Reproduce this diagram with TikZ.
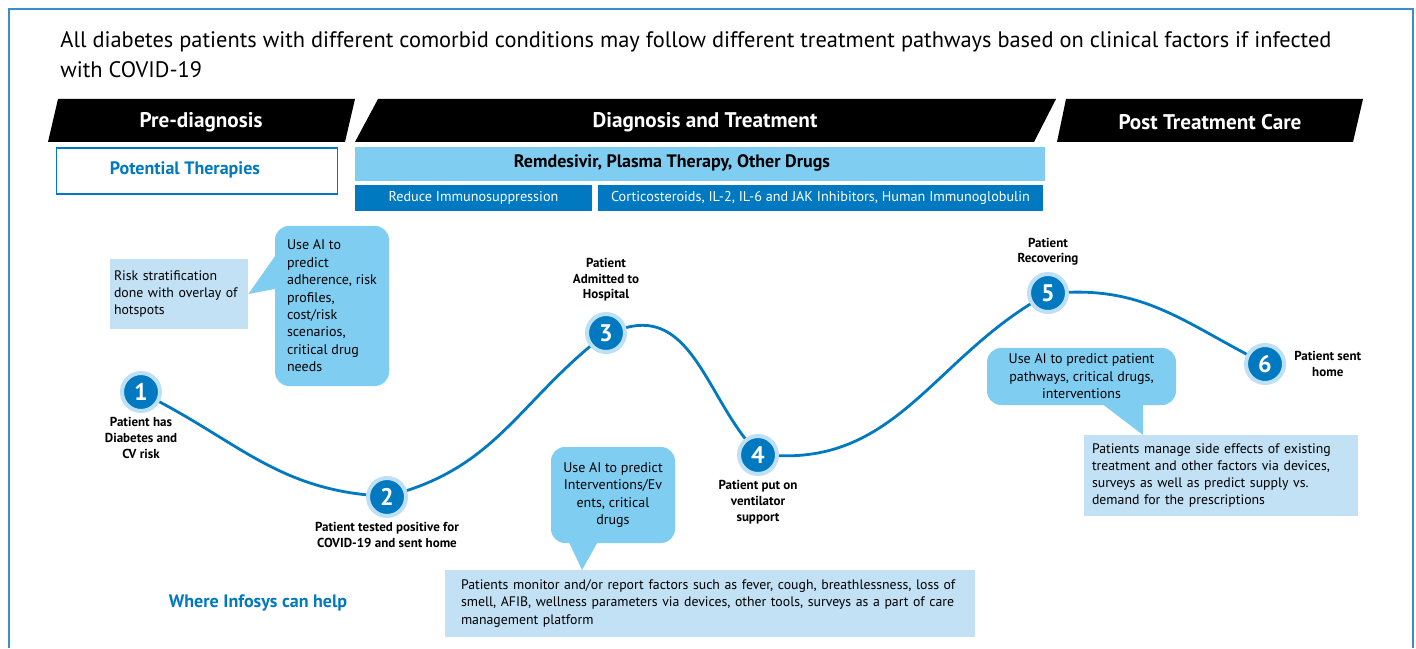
\documentclass[tikz,border=0pt]{standalone}
\usepackage{fontspec}
\setmainfont{PT Sans}
\usetikzlibrary{positioning}

\definecolor{infdark}{HTML}{0079C1}
\definecolor{inflight}{HTML}{7FCEF2}
\definecolor{infpale}{HTML}{C2E1F5}
\definecolor{infhalo}{HTML}{BDE0F5}
\definecolor{infframe}{HTML}{3A8ED0}

\tikzset{
  banner/.style = {text=white, font=\bfseries\fontsize{10.6}{12}\selectfont},
  stepdot/.style = {circle, fill=infdark, draw=infhalo, line width=2pt, minimum size=19pt,
                    inner sep=0pt, text=white, font=\bfseries\fontsize{12}{12}\selectfont},
  steplabel/.style = {align=center, inner sep=1pt, font=\bfseries\fontsize{6.5}{7.9}\selectfont},
  callout/.style = {fill=inflight, rounded corners=7pt, inner sep=0pt,
                    font=\fontsize{7}{8.7}\selectfont},
  infobox/.style = {fill=infpale, inner ysep=0pt, font=\fontsize{6.9}{8.6}\selectfont, align=left},
  therapy/.style = {fill=infdark, text=white, minimum height=13pt, font=\fontsize{7.1}{8}\selectfont},
  helptext/.style = {text=infdark, font=\bfseries\fontsize{9}{10}\selectfont},
  curve/.style = {draw=infdark, line width=1.4pt}
}

\begin{document}
\begin{tikzpicture}[x=0.5pt, y=0.5pt]
  \useasboundingbox (0,0) rectangle (1416,648);
  \fill[white] (0,0) rectangle (1416,648);
  \draw[infframe, line width=1pt] (9,0) -- (9,639) -- (1413,639) -- (1413,0);

  % heading
  \node[anchor=base west, inner sep=0pt, align=left, font=\fontsize{11.2}{15}\selectfont] (title) at (60,570)
    {All diabetes patients with different comorbid conditions may follow different treatment pathways based on clinical factors if infected\\with COVID-19};

  % phase banners
  \fill (58,549) -- (355,549) -- (345,506) -- (48,506) -- cycle;
  \fill (378,549) -- (1056,549) -- (1034,506) -- (355,506) -- cycle;
  \fill (1066,549) -- (1363,549) -- (1353,506) -- (1057,506) -- cycle;
  \node[banner] (pre) at (201,526) {Pre-diagnosis};
  \node[banner] (diag) at (705,526) {Diagnosis and Treatment};
  \node[banner] (post) at (1210,526) {Post Treatment Care};

  % therapies
  \node[draw=infdark, line width=0.6pt, minimum width=140.5pt, minimum height=23pt] (pot) at (197,477) {};
  \node[helptext] (pottext) at (185,478) {Potential Therapies};
  \node[fill=inflight, minimum width=345pt, minimum height=17pt] (remd) at (700,484) {};
  \node[font=\bfseries\fontsize{9}{10}\selectfont] (remdtext) at (672,485) {Remdesivir, Plasma Therapy, Other Drugs};
  \node[therapy, minimum width=118.5pt] (reduce) at (473.5,450) {Reduce Immunosuppression};
  \node[therapy, minimum width=222.5pt] (cortico) at (820.5,450) {Corticosteroids, IL-2, IL-6 and JAK Inhibitors, Human Immunoglobulin};

  % patient journey
  \node[stepdot] (n1) at (141,256) {1};
  \node[stepdot] (n2) at (387,151) {2};
  \node[stepdot] (n3) at (606,315) {3};
  \node[stepdot] (n4) at (758,193) {4};
  \node[stepdot] (n5) at (1048,355) {5};
  \node[stepdot] (n6) at (1265,284) {6};

  \draw[curve] (n1) to[out=-28, in=174] (n2);
  \draw[curve] (n2) to[out=18, in=-140] (n3);
  \draw[curve] (n3) to[out=15, in=128] (n4);
  \draw[curve] (n4) to[out=-2, in=-148] (n5);
  \draw[curve] (n5) to[out=2, in=152] (n6);

  \node[steplabel, below=1pt of n1] (l1) {Patient has\\Diabetes and\\CV risk};
  \node[steplabel, below=1pt of n2] (l2) {Patient tested positive for\\COVID-19 and sent home};
  \node[steplabel, above=4pt of n3] (l3) {Patient\\Admitted to\\Hospital};
  \node[steplabel, below=1pt of n4] (l4) {Patient put on\\ventilator\\support};
  \node[steplabel, above=2pt of n5] (l5) {Patient\\Recovering};
  \node[steplabel, right=3pt of n6] (l6) {Patient sent\\home};

  % where Infosys can help
  \node[infobox, text width=65pt, inner xsep=2pt, minimum height=35pt] (risk) at (179,354)
    {Risk stratification\\done with overlay of\\hotspots};
  \fill[inflight] (280,399) -- (risk.east) -- (280,360) -- cycle;
  \node[callout, align=left, minimum width=57pt, minimum height=80pt] (ai1) at (332,342)
    {Use AI to\\predict\\adherence, risk\\profiles,\\cost/risk\\scenarios,\\critical drug\\needs};

  \node[infobox, text width=249pt, inner xsep=8pt, minimum height=33.5pt] (monitor) at (710,44.5)
    {Patients monitor and/or report factors such as fever, cough, breathlessness, loss of\\smell, AFIB, wellness parameters via devices, other tools, surveys as a part of care\\management platform};
  \fill[inflight] (567,110) -- (582,78) -- (600,110) -- cycle;
  \node[callout, align=center, minimum width=62pt, minimum height=48pt] (ai2) at (613,153)
    {Use AI to predict\\Interventions/Ev\\ents, critical\\drugs};

  \node[infobox, text width=129pt, inner xsep=4pt, minimum height=40.5pt] (manage) at (1221,172.5)
    {Patients manage side effects of existing\\treatment and other factors via devices,\\surveys as well as predict supply vs.\\demand for the prescriptions};
  \fill[inflight] (1097,248) -- (1143,213) -- (1143,248) -- cycle;
  \node[callout, align=center, minimum width=94.5pt, minimum height=28.5pt] (ai3) at (1081.5,271.5)
    {Use AI to predict patient\\pathways, critical drugs,\\interventions};

  \node[helptext] (where) at (258,45) {Where Infosys can help};
\end{tikzpicture}
\end{document}
